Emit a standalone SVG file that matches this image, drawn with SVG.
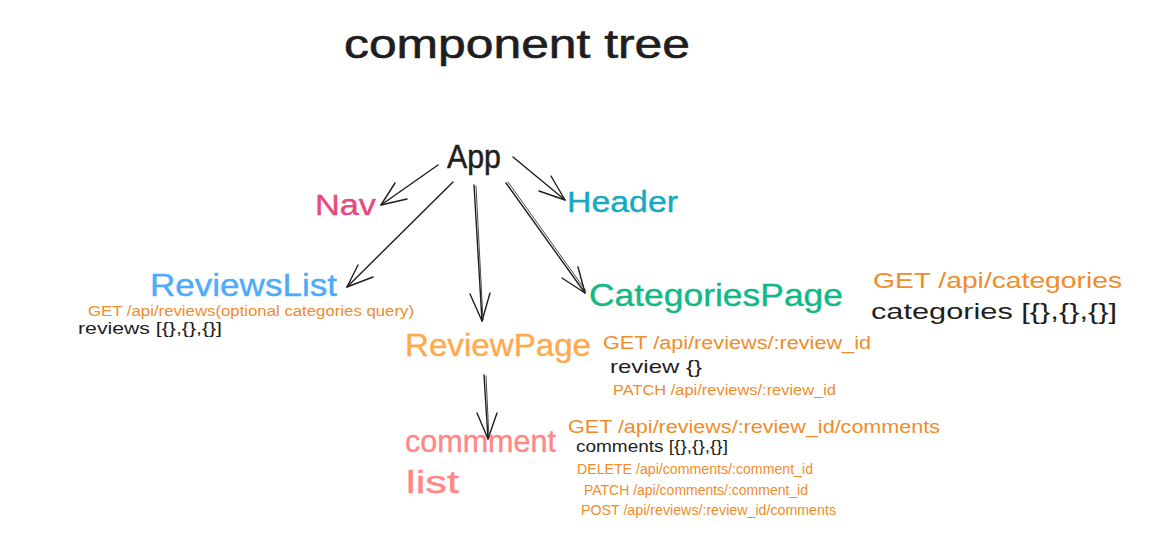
<svg xmlns="http://www.w3.org/2000/svg" width="1168" height="549" viewBox="0 0 1168 549">
<style>
text{font-family:"Liberation Sans","DejaVu Sans",sans-serif;stroke-linejoin:round;}
.big{font-size:32px;stroke-width:0.4;}
.api{fill:#f08c2a;}
.dark{fill:#1e1e1e;}
.ar{stroke:#1e1e1e;stroke-width:1.4;fill:none;stroke-linecap:round;stroke-linejoin:round;}
.ar2{stroke:#1e1e1e;stroke-width:0.8;fill:none;stroke-linecap:round;}
</style>
<rect width="1168" height="549" fill="#ffffff"/>

<g id="title">
<text x="344" y="58" font-size="40" class="dark" stroke="#1e1e1e" stroke-width="0.6" textLength="346" lengthAdjust="spacingAndGlyphs">component tree</text>
</g>

<g id="connectors">
<g id="app-nav">
<path class="ar" d="M438 165 L381 205"/>
<path class="ar" d="M395 183 L381 205 L407 199"/>
</g>
<g id="app-header">
<path class="ar" d="M513 157 L565 200"/>
<path class="ar" d="M551 176 L565 200 L539 191"/>
</g>
<g id="app-reviewslist">
<path class="ar" d="M453 182 L347 287"/>
<path class="ar" d="M358 265 L347 287 L373 277"/>
</g>
<g id="app-reviewpage">
<path class="ar" d="M474 185 L482 321"/>
<path class="ar2" d="M476 186 L483 320"/>
<path class="ar" d="M470 294 L482 321 L490 293"/>
</g>
<g id="app-categories">
<path class="ar" d="M506 183 L585 293"/>
<path class="ar2" d="M508 182 L586 291"/>
<path class="ar" d="M578 267 L585 293 L562 278"/>
</g>
<g id="reviewpage-commentlist">
<path class="ar" d="M484 375 L488 439"/>
<path class="ar2" d="M486 376 L489 438"/>
<path class="ar" d="M477 413 L488 439 L497 413"/>
</g>
</g>

<g id="node-app">
<text x="447" y="168" font-size="34" class="dark" stroke="#1e1e1e" stroke-width="0.5" textLength="54" lengthAdjust="spacingAndGlyphs">App</text>
</g>
<g id="node-nav">
<text x="315" y="215" font-size="30" fill="#e64980" stroke="#e64980" stroke-width="0.4" textLength="61" lengthAdjust="spacingAndGlyphs">Nav</text>
</g>
<g id="node-header">
<text x="567" y="212" font-size="30" fill="#15aabf" stroke="#15aabf" stroke-width="0.4" textLength="111" lengthAdjust="spacingAndGlyphs">Header</text>
</g>
<g id="node-reviewslist">
<text x="150" y="296" class="big" fill="#4dabf7" stroke="#4dabf7" textLength="187" lengthAdjust="spacingAndGlyphs">ReviewsList</text>
<text x="88" y="316" font-size="14" class="api" textLength="326" lengthAdjust="spacingAndGlyphs">GET /api/reviews(optional categories query)</text>
<text x="78" y="334" font-size="16" class="dark" textLength="144" lengthAdjust="spacingAndGlyphs">reviews [{},{},{}]</text>
</g>
<g id="node-categoriespage">
<text x="589" y="306" class="big" fill="#12b886" stroke="#12b886" textLength="254" lengthAdjust="spacingAndGlyphs">CategoriesPage</text>
<text x="873" y="288" font-size="22" class="api" textLength="249" lengthAdjust="spacingAndGlyphs">GET /api/categories</text>
<text x="871" y="319" font-size="22" class="dark" textLength="246" lengthAdjust="spacingAndGlyphs">categories [{},{},{}]</text>
</g>
<g id="node-reviewpage">
<text x="405" y="356" class="big" fill="#ffa94d" stroke="#ffa94d" textLength="186" lengthAdjust="spacingAndGlyphs">ReviewPage</text>
<text x="603" y="349" font-size="18" class="api" textLength="268" lengthAdjust="spacingAndGlyphs">GET /api/reviews/:review_id</text>
<text x="610" y="373" font-size="19" class="dark" textLength="92" lengthAdjust="spacingAndGlyphs">review {}</text>
<text x="613" y="395" font-size="14" class="api" textLength="223" lengthAdjust="spacingAndGlyphs">PATCH /api/reviews/:review_id</text>
</g>
<g id="node-commentlist">
<text x="405" y="452" class="big" fill="#ff8787" stroke="#ff8787" textLength="151" lengthAdjust="spacingAndGlyphs">commment</text>
<text x="406" y="493" class="big" fill="#ff8787" stroke="#ff8787" textLength="53" lengthAdjust="spacingAndGlyphs">list</text>
<text x="568" y="433" font-size="18" class="api" textLength="372" lengthAdjust="spacingAndGlyphs">GET /api/reviews/:review_id/comments</text>
<text x="576" y="452" font-size="16" class="dark" textLength="152" lengthAdjust="spacingAndGlyphs">comments [{},{},{}]</text>
<text x="577" y="474" font-size="14" class="api" textLength="236" lengthAdjust="spacingAndGlyphs">DELETE /api/comments/:comment_id</text>
<text x="584" y="495" font-size="14" class="api" textLength="224" lengthAdjust="spacingAndGlyphs">PATCH /api/comments/:comment_id</text>
<text x="581" y="515" font-size="14" class="api" textLength="255" lengthAdjust="spacingAndGlyphs">POST /api/reviews/:review_id/comments</text>
</g>
</svg>
